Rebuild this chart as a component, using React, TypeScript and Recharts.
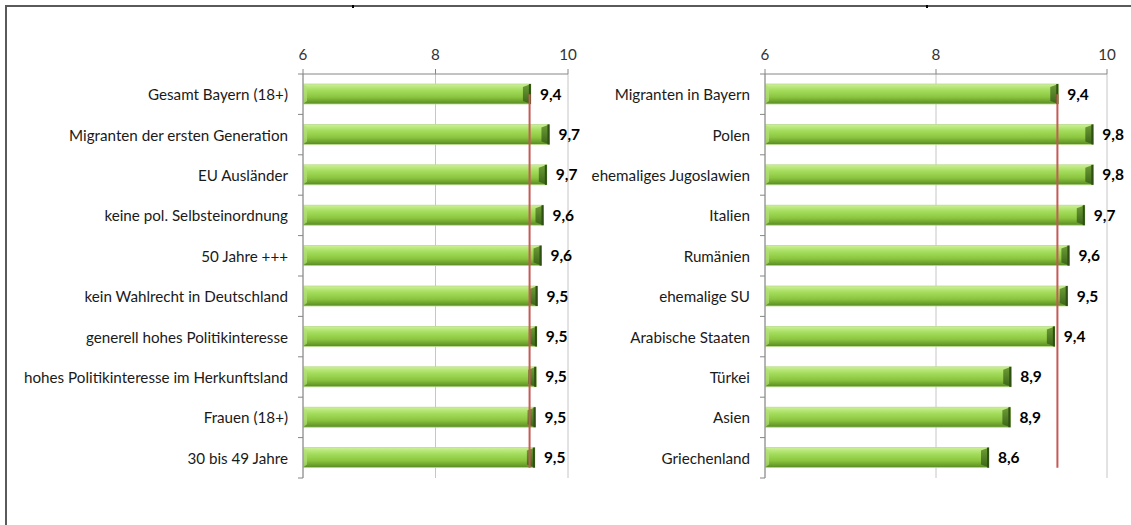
import React from "react";
import {
  BarChart,
  Bar,
  XAxis,
  YAxis,
  CartesianGrid,
  ReferenceLine,
  LabelList,
} from "recharts";

const leftCategories = [
  "Gesamt Bayern (18+)",
  "Migranten der ersten Generation",
  "EU Ausländer",
  "keine pol. Selbsteinordnung",
  "50 Jahre +++",
  "kein Wahlrecht in Deutschland",
  "generell hohes Politikinteresse",
  "hohes Politikinteresse im Herkunftsland",
  "Frauen (18+)",
  "30 bis 49 Jahre",
];
const leftValues = [9.44, 9.72, 9.68, 9.63, 9.6, 9.54, 9.53, 9.52, 9.51, 9.5];

const rightCategories = [
  "Migranten in Bayern",
  "Polen",
  "ehemaliges Jugoslawien",
  "Italien",
  "Rumänien",
  "ehemalige SU",
  "Arabische Staaten",
  "Türkei",
  "Asien",
  "Griechenland",
];
const rightValues = [9.43, 9.84, 9.84, 9.74, 9.56, 9.54, 9.39, 8.88, 8.87, 8.62];

const xTicks = [6, 8, 10];
const xDomain = [6, 10];
const referenceValue = 9.42;

const FONT = "Lato, 'Open Sans', sans-serif";
const CHART_H = 525;
const X_AXIS_H = 30;
const TOP = 74; // y of the top axis line
const BOTTOM = 47;
const BAND = (CHART_H - TOP - BOTTOM) / 10;
const TICK_MARGIN = 10;
const AXIS_COLOR = "#868686";

const fmt = (v: number) => v.toFixed(1).replace(".", ",");

function BevelBar(props: any) {
  const { x, y, width, height } = props;
  if (!width || width <= 0) return null;
  const b = Math.min(8, width / 2);
  return (
    <g>
      <rect x={x} y={y} width={width} height={height} fill="url(#barGrad)" stroke="#b9dd8c" strokeWidth={0.8} />
      <polygon
        points={`${x},${y} ${x + 4},${y + 3} ${x + 4},${y + height - 3} ${x},${y + height}`}
        fill="#b3e07a"
        opacity={0.7}
      />
      <polygon
        points={`${x + width - b},${y + 3} ${x + width},${y} ${x + width},${y + height} ${x + width - b},${y + height - 3}`}
        fill="url(#bevelGrad)"
      />
      <rect x={x + width - 2} y={y} width={2} height={height} fill="#2f4f14" />
    </g>
  );
}

function CategoryTick(props: any) {
  const { x, y, payload, index } = props;
  const ax = x + TICK_MARGIN + 5;
  return (
    <g>
      <text
        x={x}
        y={y}
        textAnchor="end"
        dominantBaseline="central"
        fontSize={15.2}
        fontFamily={FONT}
        fill="#1a1a1a"
      >
        {payload.value}
      </text>
      <line x1={ax - 5} x2={ax} y1={y + BAND / 2} y2={y + BAND / 2} stroke={AXIS_COLOR} />
      {index === 0 && <line x1={ax - 5} x2={ax} y1={y - BAND / 2} y2={y - BAND / 2} stroke={AXIS_COLOR} />}
    </g>
  );
}

function RefShape(props: any) {
  const { x1, y1, x2, y2 } = props;
  return <line x1={x1} y1={y1} x2={x2} y2={y2 + 10} stroke="#c55a56" strokeWidth={2} />;
}

function Panel({
  categories,
  values,
  width,
  axisWidth,
  right,
}: {
  categories: string[];
  values: number[];
  width: number;
  axisWidth: number;
  right: number;
}) {
  const data = categories.map((name, i) => ({ name, value: values[i] }));
  return (
    <BarChart
      layout="vertical"
      width={width}
      height={CHART_H}
      data={data}
      margin={{ top: TOP - X_AXIS_H, right, bottom: BOTTOM, left: 0 }}
    >
      <defs>
        <linearGradient id="barGrad" x1="0" y1="0" x2="0" y2="1">
          <stop offset="0%" stopColor="#cdf098" />
          <stop offset="30%" stopColor="#a5de5e" />
          <stop offset="65%" stopColor="#8cc63f" />
          <stop offset="100%" stopColor="#588a22" />
        </linearGradient>
        <linearGradient id="bevelGrad" x1="0" y1="0" x2="0" y2="1">
          <stop offset="0%" stopColor="#6e9e36" />
          <stop offset="100%" stopColor="#3b6518" />
        </linearGradient>
      </defs>
      <CartesianGrid horizontal={false} stroke="#c6c6c6" />
      <XAxis
        type="number"
        orientation="top"
        height={X_AXIS_H}
        domain={xDomain}
        ticks={xTicks}
        allowDataOverflow
        axisLine={{ stroke: AXIS_COLOR }}
        tickLine={{ stroke: AXIS_COLOR }}
        tickSize={5}
        tickMargin={9}
        tick={{ fill: "#333", fontSize: 15.2, fontFamily: FONT }}
      />
      <YAxis
        type="category"
        dataKey="name"
        width={axisWidth}
        axisLine={{ stroke: AXIS_COLOR }}
        tickLine={false}
        tickSize={5}
        tickMargin={TICK_MARGIN}
        interval={0}
        tick={<CategoryTick />}
      />
      <Bar dataKey="value" barSize={20} shape={<BevelBar />} isAnimationActive={false}>
        <LabelList
          dataKey="value"
          position="right"
          offset={9}
          formatter={(v: any) => fmt(Number(v))}
          style={{ fill: "#000", fontWeight: 700, fontSize: 15.5, fontFamily: FONT }}
        />
      </Bar>
      <ReferenceLine
        segment={[
          { x: referenceValue, y: categories[0] },
          { x: referenceValue, y: categories[categories.length - 1] },
        ]}
        ifOverflow="visible"
        shape={<RefShape />}
      />
    </BarChart>
  );
}

export default function App() {
  return (
    <div
      style={{
        position: "absolute",
        left: 0,
        top: 0,
        width: 1131,
        height: 525,
        overflow: "hidden",
        background: "#fff",
      }}
    >
      <div
        style={{
          position: "absolute",
          left: 5,
          top: 5,
          width: 1126,
          height: 520,
          borderLeft: "2px solid #5a5a5a",
          borderTop: "2px solid #5a5a5a",
        }}
      />
      <div style={{ position: "absolute", left: 352, top: 5, width: 2, height: 3, background: "#000" }} />
      <div style={{ position: "absolute", left: 926, top: 5, width: 2, height: 3, background: "#000" }} />
      <div style={{ position: "absolute", left: 0, top: 0 }}>
        <Panel categories={leftCategories} values={leftValues} width={580} axisWidth={303} right={12} />
      </div>
      <div style={{ position: "absolute", left: 580, top: 0 }}>
        <Panel categories={rightCategories} values={rightValues} width={551} axisWidth={185} right={24} />
      </div>
    </div>
  );
}
